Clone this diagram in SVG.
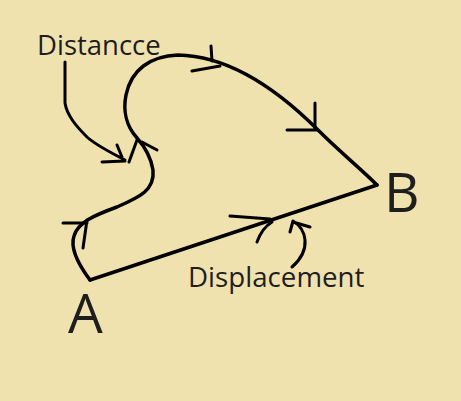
<svg xmlns="http://www.w3.org/2000/svg" width="461" height="401" viewBox="0 0 461 401">
<style>
.s{fill:none;stroke:#000;stroke-width:3.5;stroke-linecap:round;stroke-linejoin:round}
.t{fill:none;stroke:#000;stroke-width:3;stroke-linecap:round}
.lbl{font-family:"Open Sans","Noto Sans",sans-serif;fill:#1e1e1e}
</style>
<rect width="461" height="401" fill="#F0E2AF"/>
<g id="connectors">
<path class="s" d="M90,280 C78,264 70,248 74,236 C78,222 95,215 117,207 C140,197 155,190 153,170 C151,158 146,148 137,138 C126,126 123,110 126,95 C131,70 150,56 178,55 C232,56 282,94 318,130 C340,152 360,168 377,185"/>
<path class="s" d="M90,280 L377,185"/>
<path class="t" d="M211,46 L212,61 M192,71 L220,66"/>
<path class="t" d="M315,103 L315,129 M287,130 L317,130"/>
<path class="t" d="M63,223 L87,223 M83,248 L87,220"/>
<path class="t" d="M230,216 L270,219 M257,242 Q262,228 272,222"/>
<path class="t" d="M129,162 L137,140 M142,142 L157,150"/>
<path class="t" d="M65,62 L65,103 C67,115 75,125 87,137 C97,146 110,152 125,160 M102,162 L125,161 M117,145 L122,157"/>
<path class="t" d="M292,267 C300,260 306,252 305,240 C304,230 298,224 293,221 M293,222 L310,227 M290,232 L293,221"/>
</g>
<g id="label-distance"><text class="lbl" x="37" y="55" font-size="27.5">Distancce</text></g>
<g id="label-displacement"><text class="lbl" x="188" y="287" font-size="27.7">Displacement</text></g>
<g id="node-A"><text class="lbl" x="68" y="333" font-size="55">A</text></g>
<g id="node-B"><text class="lbl" x="384" y="212" font-size="55">B</text></g>
</svg>
